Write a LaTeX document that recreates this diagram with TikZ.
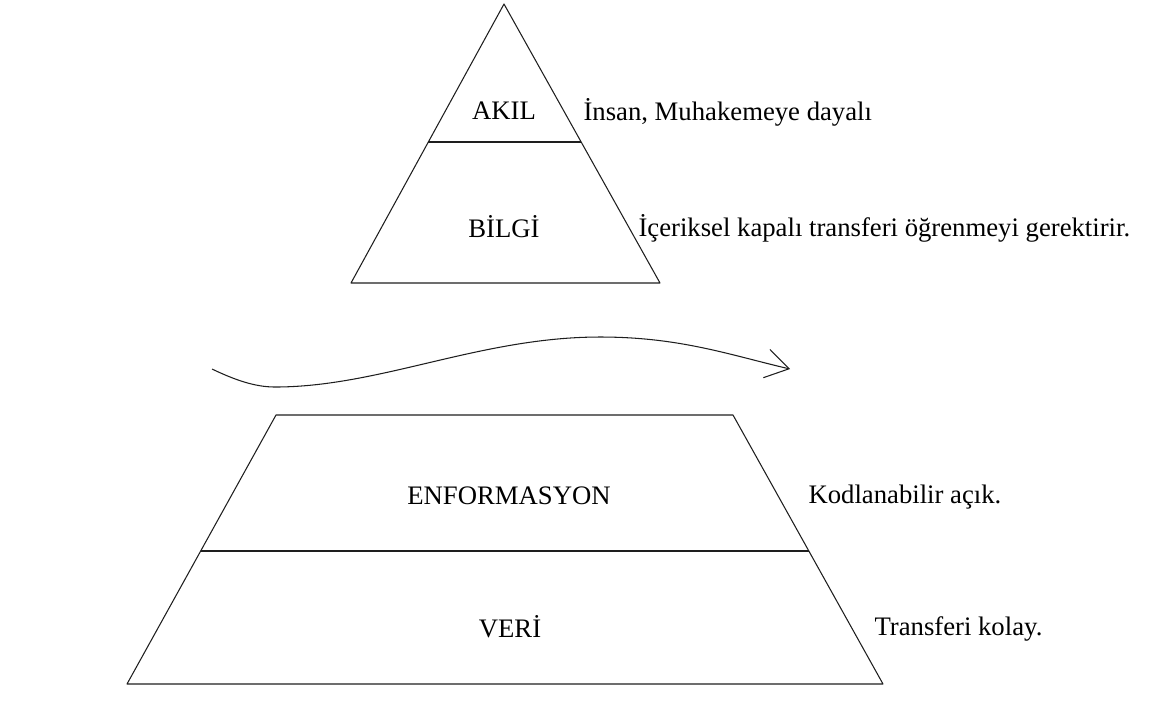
\documentclass[tikz,border=0pt]{standalone}
\usepackage{fontspec}
\setmainfont{Liberation Serif}
\usetikzlibrary{arrows.meta}
\definecolor{line_gray}{RGB}{30,30,30}

\begin{document}
\begin{tikzpicture}[x=0.02cm,y=-0.02cm,line width=0.6pt]
    \tikzstyle{lbl}=[font=\fontsize{15.2}{18}\selectfont, text=black, inner sep=0pt]
    \tikzstyle{remark}=[style=lbl, anchor=west]
    \tikzstyle{pyr}=[draw=line_gray, line join=round]

    \useasboundingbox (0,0) rectangle (1151,725);

    % top: akil / bilgi
    \coordinate (apex) at (504,4);
    \coordinate (tl) at (351,283);
    \coordinate (tr) at (660,283);
    \coordinate (tml) at (428,142);
    \coordinate (tmr) at (581,142);
    \draw[pyr] (apex) -- (tl) -- (tr) -- cycle;
    \draw[pyr] (tml) -- (tmr);

    \node[lbl] (akil)  at (504,111) {AKIL};
    \node[lbl] (bilgi) at (504,227) {BİLGİ};
    \node[remark] (akil_txt)  at (583,112) {İnsan, Muhakemeye dayalı};
    \node[remark] (bilgi_txt) at (638,228) {İçeriksel kapalı transferi öğrenmeyi gerektirir.};

    % arrow
    \coordinate (w0) at (212,369);
    \coordinate (w1) at (275,387);
    \coordinate (w2) at (600,337);
    \coordinate (w3) at (790,369);
    \draw[line_gray, -{Straight Barb[length=4.6mm,width=5.8mm]}]
      (w0) .. controls (235,380) and (255,387) .. (w1)
           .. controls (380,387) and (480,337) .. (w2)
           .. controls (680,337) and (730,355) .. (w3);

    % bottom: enformasyon / veri
    \coordinate (bl_top) at (276,415);
    \coordinate (br_top) at (733,415);
    \coordinate (br_bot) at (883,684);
    \coordinate (bl_bot) at (127,684);
    \coordinate (bml) at (201,551);
    \coordinate (bmr) at (809,551);
    \draw[pyr] (bl_top) -- (br_top) -- (br_bot) -- (bl_bot) -- cycle;
    \draw[pyr] (bml) -- (bmr);

    \node[lbl] (enf)  at (509,496) {ENFORMASYON};
    \node[lbl] (veri) at (510,627) {VERİ};
    \node[remark] (enf_txt)  at (808,497) {Kodlanabilir açık.};
    \node[remark] (veri_txt) at (874,629) {Transferi kolay.};
\end{tikzpicture}
\end{document}
